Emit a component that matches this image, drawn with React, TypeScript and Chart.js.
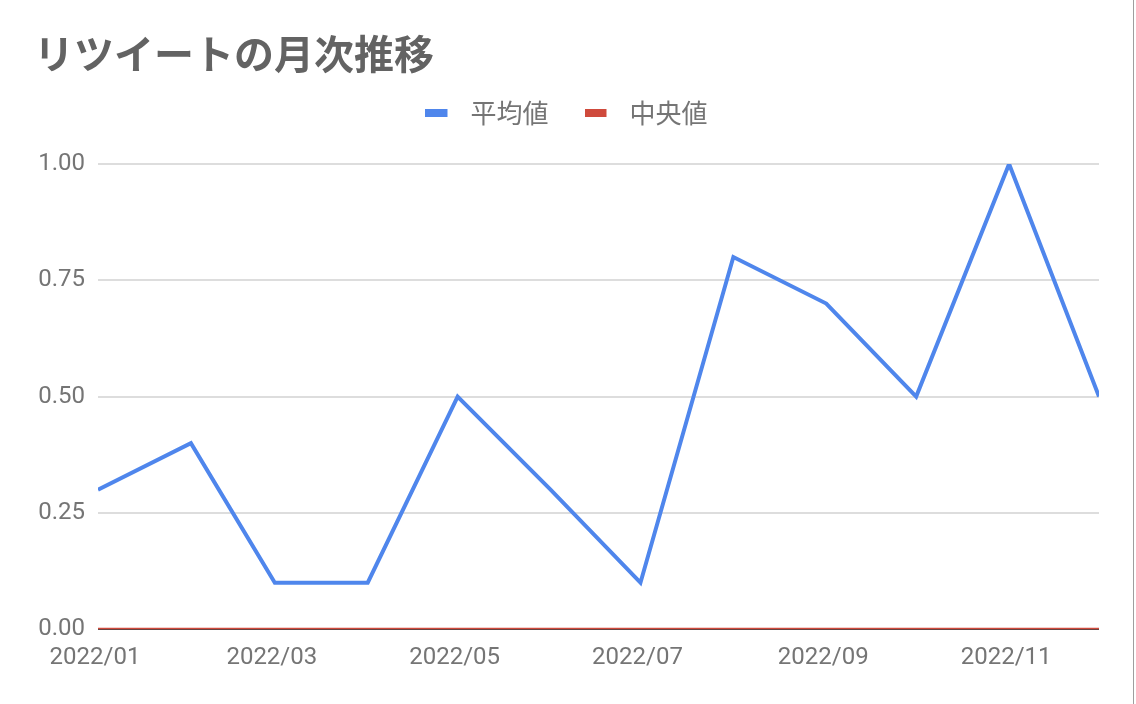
import Chart from "chart.js/auto";
import { useEffect, useRef } from "react";

const title = "リツイートの月次推移";
const months = [
  "2022/01", "2022/02", "2022/03", "2022/04", "2022/05", "2022/06",
  "2022/07", "2022/08", "2022/09", "2022/10", "2022/11", "2022/12",
];
const averageValues = [0.3, 0.4, 0.1, 0.1, 0.5, 0.3, 0.1, 0.8, 0.7, 0.5, 1.0, 0.5];
const medianValues = [0, 0, 0, 0, 0, 0, 0, 0, 0, 0, 0, 0];
const tickMonths = ["2022/01", "2022/03", "2022/05", "2022/07", "2022/09", "2022/11"];
const yTicks = [0, 0.25, 0.5, 0.75, 1.0];

const BLUE = "#4f86ec";
const RED = "#cf4a3c";

// days since 2022/01/01 for a "YYYY/MM" label
function dayOf(label: string) {
  const [y, m] = label.split("/").map(Number);
  return (Date.UTC(y, m - 1, 1) - Date.UTC(2022, 0, 1)) / 86400000;
}

function legendMark(color: string) {
  const c = document.createElement("canvas");
  c.width = 32;
  c.height = 8;
  const ctx = c.getContext("2d");
  if (ctx) {
    ctx.fillStyle = color;
    ctx.fillRect(0, 0, 22, 8);
  }
  return c;
}

function App() {
  const chartRef = useRef<HTMLCanvasElement | null>(null);
  const chartInstance = useRef<Chart | null>(null);

  useEffect(() => {
    if (!chartRef.current) return;
    const ctx = chartRef.current.getContext("2d");
    if (!ctx) return;

    if (chartInstance.current) {
      chartInstance.current.destroy();
    }

    // extra room between the legend and the plot
    const legendSpacer = {
      id: "legendSpacer",
      beforeInit(chart: any) {
        const fit = chart.legend.fit;
        chart.legend.fit = function () {
          fit.bind(chart.legend)();
          this.height += 28;
        };
      },
    };

    chartInstance.current = new Chart(ctx, {
      type: "line",
      data: {
        datasets: [
          {
            label: "平均値",
            data: months.map((m, i) => ({ x: dayOf(m), y: averageValues[i] })),
            borderColor: BLUE,
            backgroundColor: BLUE,
            borderWidth: 4,
            pointRadius: 0,
            pointStyle: legendMark(BLUE),
            tension: 0,
          },
          {
            label: "中央値",
            data: months.map((m, i) => ({ x: dayOf(m), y: medianValues[i] })),
            borderColor: RED,
            backgroundColor: RED,
            borderWidth: 3,
            pointRadius: 0,
            pointStyle: legendMark(RED),
            tension: 0,
          },
        ],
      },
      options: {
        animation: false,
        responsive: false,
        layout: { padding: { top: 20, left: 34, right: 37, bottom: 18 } },
        plugins: {
          title: {
            display: true,
            text: title,
            align: "start",
            color: "#636363",
            font: { family: "'Noto Sans CJK JP', sans-serif", size: 40, weight: "bold" },
            padding: { top: 10, bottom: -14 },
          },
          legend: {
            display: true,
            labels: {
              usePointStyle: true,
              pointStyleWidth: 32,
              boxHeight: 8,
              color: "#757575",
              padding: 36,
              font: { family: "'Noto Sans CJK JP', sans-serif", size: 26 },
            },
          },
          tooltip: { enabled: false },
        },
        scales: {
          x: {
            type: "linear",
            min: dayOf(months[0]),
            max: dayOf(months[months.length - 1]),
            afterBuildTicks: (scale: any) => {
              scale.ticks = tickMonths.map((m) => ({ value: dayOf(m) }));
            },
            ticks: {
              autoSkip: false,
              maxRotation: 0,
              padding: 14,
              labelOffset: -3,
              color: "#757575",
              font: { family: "Roboto", size: 24 },
              callback: (v: any) => tickMonths.find((m) => dayOf(m) === v) ?? "",
            },
            grid: { display: false, drawTicks: false },
            border: { display: false },
          },
          y: {
            min: 0,
            max: 1,
            afterBuildTicks: (scale: any) => {
              scale.ticks = yTicks.map((v) => ({ value: v }));
            },
            afterFit: (scale: any) => {
              scale.width = 64;
            },
            ticks: {
              padding: 13,
              color: "#757575",
              font: { family: "Roboto", size: 24 },
              callback: (v: any) => Number(v).toFixed(2),
            },
            grid: {
              drawTicks: false,
              lineWidth: 2,
              color: (c: any) => (c.tick && c.tick.value === 0 ? "#444444" : "#dddddd"),
            },
            border: { display: false },
          },
        },
      },
      plugins: [legendSpacer],
    });

    return () => {
      if (chartInstance.current) {
        chartInstance.current.destroy();
        chartInstance.current = null;
      }
    };
  }, []);

  return (
    <div
      style={{
        position: "fixed",
        left: 0,
        top: 0,
        width: 1136,
        height: 704,
        background: "#ffffff",
      }}
    >
      <canvas ref={chartRef} width={1136} height={704} />
      <div
        style={{
          position: "absolute",
          left: 1133,
          top: 0,
          width: 1,
          height: 704,
          background: "#9e9e9e",
        }}
      />
    </div>
  );
}

export default App;
